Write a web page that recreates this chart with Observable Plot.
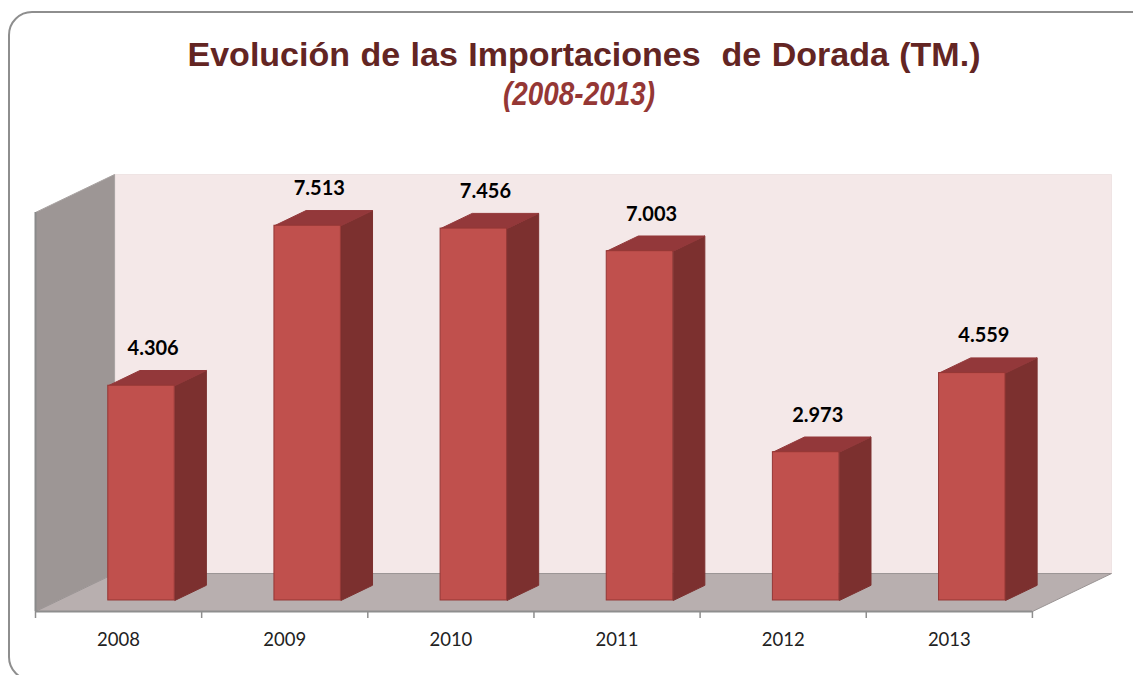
<!DOCTYPE html>
<html lang="es">
<head>
<meta charset="utf-8">
<script src="https://cdn.jsdelivr.net/npm/d3@7"></script>
<script src="https://cdn.jsdelivr.net/npm/@observablehq/plot@0.6"></script>
<style>
  html, body { margin: 0; padding: 0; background: #fff; overflow: hidden; }
  #page { position: relative; width: 1133px; height: 675px; overflow: hidden; }
  #card { position: absolute; left: 8px; top: 11px; width: 1160px; height: 670px; box-sizing: border-box;
          border: 2px solid #8e8e8e; border-radius: 24px; }
  #head { position: relative; height: 125px; text-align: center; }
  #title { position: absolute; left: 0; width: 1168px; top: 34px; font: bold 34px/40px "Liberation Sans", Arial, sans-serif;
           color: #632523; word-spacing: 1px; white-space: pre; }
  #subtitle { position: absolute; left: 0; width: 1158px; top: 72px; font: italic bold 33px/44px "Liberation Sans", sans-serif;
              color: #953735; transform: scaleX(0.845); transform-origin: 579px 50%; }
  #chart { position: relative; }
  #chart svg { display: block; }
</style>
</head>
<body>
<div id="page">
  <div id="card"></div>
  <div id="head">
    <div id="title"></div>
    <div id="subtitle"></div>
  </div>
  <div id="chart"></div>
</div>
<script>
const titleText = "Evolución de las Importaciones  de Dorada (TM.)";
const subtitleText = "(2008-2013)";
const years = [2008, 2009, 2010, 2011, 2012, 2013];
const imports = [4306, 7513, 7456, 7003, 2973, 4559];

document.getElementById("title").textContent = titleText;
document.getElementById("subtitle").textContent = subtitleText;

// Oblique projection of the 3D chart: depth 0 = front of floor, 1 = back wall.
const yMax = 8000;
const depthX = 0.476;   // years per unit of depth
const depthY = 761;     // value units per unit of depth
const barHalf = 0.2;
const barFront = 0.29, barBack = 0.69;
const P = (x, v, d) => ({x: x + d * depthX, y: v + d * depthY});

const x0 = years[0] - 0.5, x1 = years[years.length - 1] + 0.5;
const poly = (points, fill, stroke = fill, strokeWidth = 1) =>
  Plot.line([...points, points[0]], {x: "x", y: "y", fill, stroke, strokeWidth, curve: "linear"});

const backWall = [P(x0, 0, 1), P(x1, 0, 1), P(x1, yMax, 1), P(x0, yMax, 1)];
const sideWall = [P(x0, 0, 0), P(x0, 0, 1), P(x0, yMax, 1), P(x0, yMax, 0)];
const floor = [P(x0, 0, 0), P(x1, 0, 0), P(x1, 0, 1), P(x0, 0, 1)];

const barMarks = years.flatMap((yr, i) => {
  const v = imports[i], l = yr - barHalf, r = yr + barHalf;
  const a = P(l, v, barFront), b = P(r, v, barFront), c = P(r, v, barBack), e = P(l, v, barBack);
  const b0 = P(r, 0, barFront), c0 = P(r, 0, barBack), a0 = P(l, 0, barFront);
  return [
    poly([b, c, c0, b0], "#7c302f"),
    poly([a, b, c, e], "#93383a"),
    Plot.rect([{x1: a.x, x2: b.x, y1: a0.y, y2: a.y}],
      {x1: "x1", x2: "x2", y1: "y1", y2: "y2", fill: "#c0504d", stroke: "#953735", strokeWidth: 1})
  ];
});

const labelRows = years.map((yr, i) => ({
  ...P(yr + 0.07, imports[i], barFront),
  text: d3.formatLocale({decimal: ",", thousands: ".", grouping: [3], currency: ["", ""]}).format(",")(imports[i])
}));

const chart = Plot.plot({
  width: 1133,
  height: 550,
  marginLeft: 35,
  marginRight: 22,
  marginTop: 49,
  marginBottom: 64,
  style: {background: "transparent", overflow: "visible"},
  x: {domain: [x0, x1 + depthX], axis: null},
  y: {domain: [0, yMax + depthY], axis: null},
  marks: [
    poly(backWall, "#f4e8e8", "#efe4e4"),
    poly(sideWall, "#9d9695", "#a9a3a2"),
    poly(floor, "#b8afaf", "#9a9494"),
    ...barMarks,
    Plot.ruleX([x0], {y1: 0, y2: yMax, stroke: "#8a8a8a", strokeWidth: 2}),
    Plot.ruleY([0], {x1: x0, x2: x1, stroke: "#8e8e8e", strokeWidth: 2}),
    Plot.axisX(d3.range(years.length + 1).map(i => x0 + i), {
      tickSize: 7, tickFormat: () => "", stroke: "#8e8e8e", strokeWidth: 1.5
    }),
    Plot.axisX(years, {
      tickSize: 0, tickPadding: 21, tickFormat: "d", fill: "#222",
      fontSize: 18.5, fontFamily: "Lato, 'Noto Sans', sans-serif", lineHeight: 1
    }),
    Plot.text(labelRows, {
      x: "x", y: "y", text: "text", dy: -37, fill: "#000",
      fontSize: 20, fontWeight: "bold", fontFamily: "Lato, 'Noto Sans', sans-serif"
    })
  ]
});
document.getElementById("chart").append(chart);
</script>
</body>
</html>
